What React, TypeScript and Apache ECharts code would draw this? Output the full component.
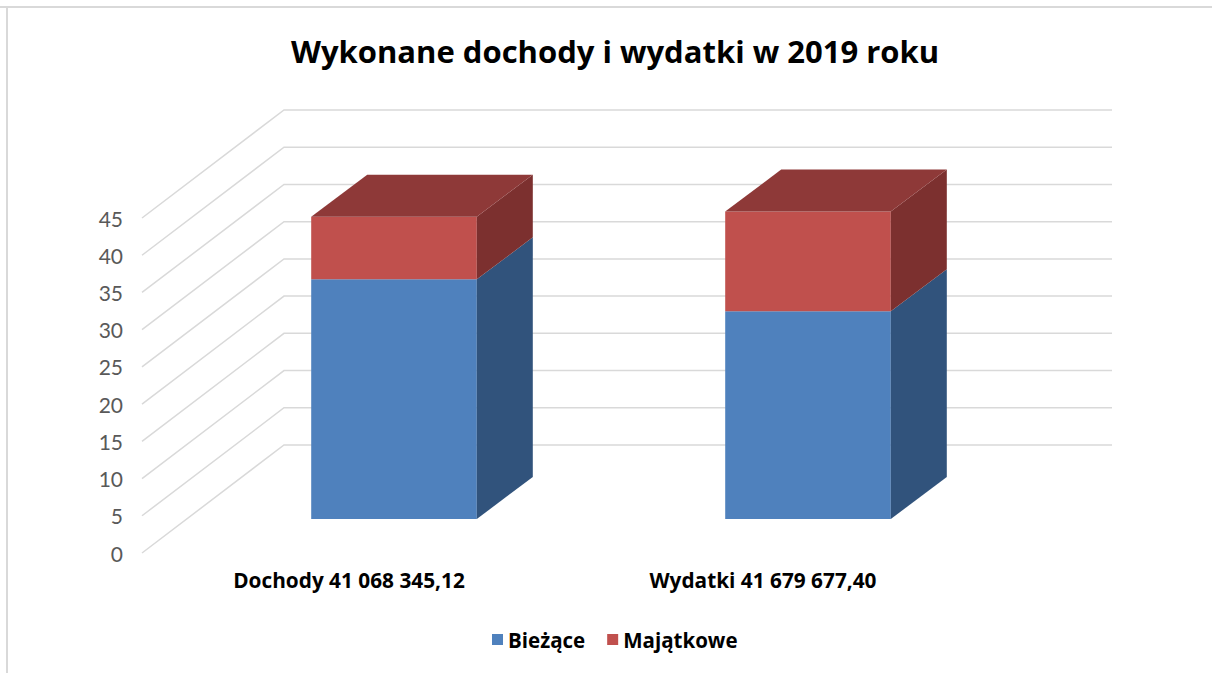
import React, { useEffect, useRef } from "react";
import * as echarts from "echarts";

const chartTitle = "Wykonane dochody i wydatki w 2019 roku";
const categories = ["Dochody 41 068 345,12", "Wydatki 41 679 677,40"];
const seriesNames = ["Bieżące", "Majątkowe"];
const biezace = [32.2, 27.9];
const majatkowe = [8.4, 13.4];
const yTicks = [0, 5, 10, 15, 20, 25, 30, 35, 40, 45];

const FONT = "Lato, 'Open Sans', sans-serif";
const BOLD_FONT = "'Open Sans', Lato, sans-serif";
const WALL_DX = 142;
const WALL_DY = 108;
const FRONT_DX = 45;
const FRONT_DY = 34;
const DEPTH_DX = 56;
const DEPTH_DY = 42;

const BLUE = { front: "#4F81BD", side: "#31537C", top: "#3E6897" };
const RED = { front: "#C0504D", side: "#7C302F", top: "#8E3938" };

function boxRenderer(colors: any, drawTop: boolean) {
  return (params: any, api: any) => {
    const i = api.value(0);
    const lo = api.value(1);
    const hi = api.value(2);
    const band = api.size([1, 0])[0];
    const w = band * 0.4;
    const pLo = api.coord([i, lo]);
    const pHi = api.coord([i, hi]);
    const xl = pLo[0] - w / 2 + FRONT_DX;
    const xr = xl + w;
    const yb = pLo[1] - FRONT_DY;
    const yt = pHi[1] - FRONT_DY;
    const children: any[] = [
      {
        type: "rect",
        shape: { x: xl, y: yt, width: w, height: yb - yt },
        style: { fill: colors.front },
      },
      {
        type: "polygon",
        shape: {
          points: [
            [xr, yt],
            [xr + DEPTH_DX, yt - DEPTH_DY],
            [xr + DEPTH_DX, yb - DEPTH_DY],
            [xr, yb],
          ],
        },
        style: { fill: colors.side },
      },
    ];
    if (drawTop) {
      children.push({
        type: "polygon",
        shape: {
          points: [
            [xl, yt],
            [xr, yt],
            [xr + DEPTH_DX, yt - DEPTH_DY],
            [xl + DEPTH_DX, yt - DEPTH_DY],
          ],
        },
        style: { fill: colors.top },
      });
    }
    return { type: "group", children };
  };
}

export default function App() {
  const ref = useRef<HTMLDivElement>(null);
  useEffect(() => {
    if (!ref.current) return;
    const chart = echarts.init(ref.current, null, { renderer: "svg" });
    chart.setOption({
      animation: false,
      backgroundColor: "#ffffff",
      title: {
        text: chartTitle,
        left: 610,
        top: 30,
        textAlign: "center",
        textStyle: { fontFamily: BOLD_FONT, fontSize: 31, fontWeight: "bold", color: "#000000" },
      },
      legend: {
        data: [
          { name: seriesNames[0], icon: "rect", itemStyle: { color: BLUE.front } },
          { name: seriesNames[1], icon: "rect", itemStyle: { color: RED.front } },
        ],
        left: 492,
        top: 629,
        padding: 0,
        itemWidth: 11,
        itemHeight: 11,
        itemGap: 22,
        textStyle: { fontFamily: BOLD_FONT, fontSize: 20.5, fontWeight: "bold", color: "#000000" },
      },
      grid: { left: 142, right: 242, top: 218, bottom: 120 },
      xAxis: {
        type: "category",
        data: categories,
        axisLine: { show: false },
        axisTick: { show: false },
        axisLabel: {
          margin: 16,
          fontFamily: BOLD_FONT,
          fontSize: 20.8,
          fontWeight: "bold",
          color: "#000000",
        },
      },
      yAxis: {
        type: "value",
        min: 0,
        max: 45,
        interval: 5,
        axisLine: { show: false },
        axisTick: { show: false },
        splitLine: { show: false },
        axisLabel: { margin: 19, fontFamily: FONT, fontSize: 21, color: "#595959" },
      },
      graphic: [
        { type: "line", shape: { x1: 0, y1: 7, x2: 1212, y2: 7 }, style: { stroke: "#D9D9D9", lineWidth: 2 } },
        { type: "line", shape: { x1: 7, y1: 7, x2: 7, y2: 673 }, style: { stroke: "#D9D9D9", lineWidth: 2 } },
      ],
      series: [
        {
          type: "custom",
          name: "grid",
          silent: true,
          z: 1,
          encode: { x: 0, y: 1 },
          data: yTicks.map((v) => [0, v]),
          renderItem: (params: any, api: any) => {
            const cs = params.coordSys;
            const y = api.coord([0, api.value(1)])[1];
            return {
              type: "polyline",
              shape: {
                points: [
                  [cs.x, y],
                  [cs.x + WALL_DX, y - WALL_DY],
                  [cs.x + cs.width + WALL_DX, y - WALL_DY],
                ],
              },
              style: { stroke: "#D9D9D9", lineWidth: 1.5, fill: null },
            };
          },
        },
        {
          type: "custom",
          name: seriesNames[0],
          z: 2,
          itemStyle: { color: BLUE.front },
          encode: { x: 0, y: [1, 2] },
          data: categories.map((_, i) => [i, 0, biezace[i]]),
          renderItem: boxRenderer(BLUE, false),
        },
        {
          type: "custom",
          name: seriesNames[1],
          z: 3,
          itemStyle: { color: RED.front },
          encode: { x: 0, y: [1, 2] },
          data: categories.map((_, i) => [i, biezace[i], biezace[i] + majatkowe[i]]),
          renderItem: boxRenderer(RED, true),
        },
      ],
    });
    return () => chart.dispose();
  }, []);
  return (
    <div
      ref={ref}
      style={{ position: "fixed", left: 0, top: 0, width: 1212, height: 673, background: "#fff" }}
    />
  );
}
